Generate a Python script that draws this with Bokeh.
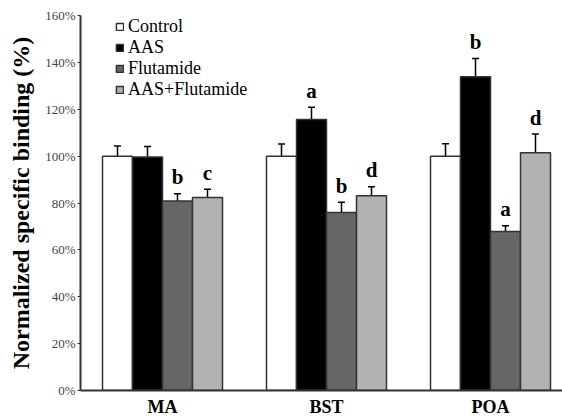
from bokeh.plotting import figure
from bokeh.models import (ColumnDataSource, Legend, LegendItem, Whisker, TeeHead,
                          FixedTicker, PrintfTickFormatter, Range1d)
from bokeh.core.properties import value
from bokeh.embed import file_html
from bokeh.resources import INLINE

categories = ["MA", "BST", "POA"]
series = ["Control", "AAS", "Flutamide", "AAS+Flutamide"]
control = [100.0, 100.0, 100.0]
control_err = [4.3, 5.2, 5.3]
aas = [99.6, 115.6, 133.9]
aas_err = [4.5, 5.3, 7.8]
flutamide = [80.9, 76.0, 67.8]
flutamide_err = [3.0, 4.3, 2.5]
aas_flutamide = [82.4, 83.1, 101.4]
aas_flutamide_err = [3.5, 3.8, 8.0]
letters_control = ["", "", ""]
letters_aas = ["", "a", "b"]
letters_flutamide = ["b", "b", "a"]
letters_aas_flutamide = ["c", "d", "d"]
y_ticks = [0, 20, 40, 60, 80, 100, 120, 140, 160]

values = [control, aas, flutamide, aas_flutamide]
errors = [control_err, aas_err, flutamide_err, aas_flutamide_err]
letters = [letters_control, letters_aas, letters_flutamide, letters_aas_flutamide]
fills = ["#ffffff", "#000000", "#666666", "#b2b2b2"]

SERIF = "Liberation Serif"
bw = 30 / 164
offsets = [-1.5 * bw, -0.5 * bw, 0.5 * bw, 1.5 * bw]

p = figure(width=562, height=419, output_backend="svg", toolbar_location=None,
           x_range=Range1d(-0.5, 2.439), y_range=Range1d(0, 160),
           min_border_left=80, min_border_right=0, min_border_top=15, min_border_bottom=26)
p.outline_line_color = None
p.xgrid.grid_line_color = None
p.ygrid.grid_line_color = None
p.background_fill_color = "white"
p.border_fill_color = "white"

items = []
for i, name in enumerate(series):
    xs = [g + offsets[i] for g in range(len(categories))]
    tops = values[i]
    caps = [t + e for t, e in zip(tops, errors[i])]
    src = ColumnDataSource(dict(x=xs, top=tops, cap=caps,
                                ly=[c + 7 for c in caps], lab=letters[i]))
    r = p.vbar(x="x", top="top", bottom=0, width=bw, source=src,
               fill_color=fills[i], line_color="#333333", line_width=1.5)
    items.append(LegendItem(label=name, renderers=[r]))
    w = Whisker(base="x", lower="top", upper="cap", source=src,
                line_color="black", line_width=1.5,
                lower_head=None, upper_head=TeeHead(size=7, line_color="black", line_width=1.5))
    p.add_layout(w)
    p.text(x="x", y="ly", text="lab", source=src, text_align="center",
           text_baseline="alphabetic", text_font=value(SERIF), text_font_style="bold",
           text_font_size="21px", text_color="black")

legend = Legend(items=items, location=(35, 290), orientation="vertical",
                glyph_width=9, glyph_height=9, label_height=20, spacing=0, padding=0,
                margin=0, label_standoff=4,
                label_text_font=SERIF, label_text_font_size="18px", label_text_color="black",
                border_line_color=None, background_fill_alpha=0)
p.add_layout(legend, "center")

# y axis
p.yaxis.ticker = FixedTicker(ticks=y_ticks)
p.yaxis.formatter = PrintfTickFormatter(format="%d%%")
p.yaxis.major_label_text_font = SERIF
p.yaxis.major_label_text_font_size = "13px"
p.yaxis.major_label_text_color = "#444444"
p.yaxis.major_tick_in = 0
p.yaxis.major_tick_out = 3
p.yaxis.minor_tick_line_color = None
p.yaxis.axis_line_color = "#333333"
p.yaxis.axis_line_width = 2
p.yaxis.major_tick_line_color = "#333333"
p.yaxis.major_label_standoff = 2
p.yaxis.axis_label = "Normalized specific binding (%)"
p.yaxis.axis_label_text_font = SERIF
p.yaxis.axis_label_text_font_style = "bold"
p.yaxis.axis_label_text_font_size = "24px"
p.yaxis.axis_label_text_color = "black"
p.yaxis.axis_label_standoff = 8

# x axis
p.xaxis.ticker = FixedTicker(ticks=list(range(len(categories))))
p.xaxis.major_label_overrides = {i: c for i, c in enumerate(categories)}
p.xaxis.major_label_text_font = SERIF
p.xaxis.major_label_text_font_style = "bold"
p.xaxis.major_label_text_font_size = "18px"
p.xaxis.major_label_text_color = "black"
p.xaxis.major_tick_line_color = None
p.xaxis.minor_tick_line_color = None
p.xaxis.major_tick_in = 0
p.xaxis.major_tick_out = 0
p.xaxis.major_label_standoff = 6
p.xaxis.axis_line_color = "#333333"
p.xaxis.axis_line_width = 2

open("out.html", "w").write(file_html(p, INLINE))
